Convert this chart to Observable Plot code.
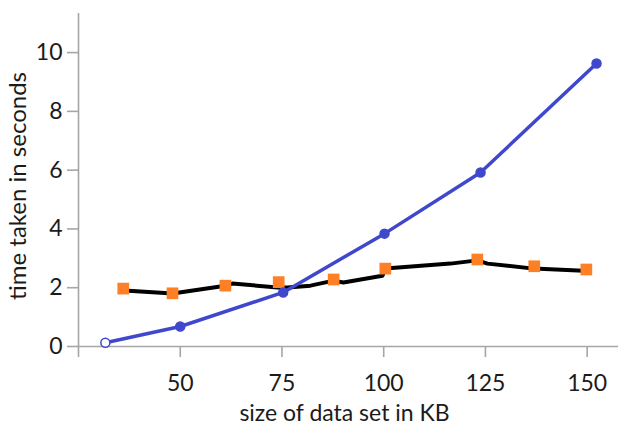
<!DOCTYPE html>
<html><head><meta charset="utf-8">
<script src="https://cdn.jsdelivr.net/npm/d3@7"></script>
<script src="https://cdn.jsdelivr.net/npm/@observablehq/plot@0.6"></script>
<style>html,body{margin:0;padding:0;background:#fff} svg{display:block}</style>
</head><body><div id="chart"></div>
<script>
// tick values
const xTicks = [25, 50, 75, 100, 125, 150];
const xTickLabels = ["", "50", "75", "100", "125", "150"];
const yTicks = [0, 2, 4, 6, 8, 10];
const xTitle = "size of data set in KB";
const yTitle = "time taken in seconds";

// blue series (line with round markers)
const blueX = [31.6, 50.0, 75.3, 100.2, 123.8, 152.3];
const blueY = [0.13, 0.68, 1.84, 3.84, 5.92, 9.63];

// black series (line)
const blackX = [37.3, 48.1, 61.1, 62.8, 73.9, 76.4, 82.0, 87.7, 90.1, 99.7, 100.4, 116.4, 123.0, 125.5, 136.8, 149.1];
const blackY = [1.90, 1.80, 2.07, 2.14, 2.01, 2.01, 2.07, 2.24, 2.18, 2.41, 2.65, 2.82, 2.93, 2.82, 2.65, 2.58];

// orange square markers
const orangeX = [36.0, 48.1, 61.1, 74.2, 87.7, 100.4, 123.0, 137.0, 149.8];
const orangeY = [1.97, 1.81, 2.07, 2.19, 2.28, 2.65, 2.96, 2.73, 2.62];

const blue = blueX.map((x, i) => ({x, y: blueY[i], i}));
const black = blackX.map((x, i) => ({x, y: blackY[i]}));
const orange = orangeX.map((x, i) => ({x, y: orangeY[i]}));

const axisGray = "#a6a6a6";
const textColor = "#1b1b1b";
const blueColor = "#3f48cc";
const orangeColor = "#ff7f27";

const chart = Plot.plot({
  width: 618, height: 433,
  marginLeft: 78, marginRight: 0, marginTop: 13, marginBottom: 87,
  style: {fontFamily: "Lato, 'Open Sans', sans-serif", background: "white"},
  x: {domain: [25, 157.7]},
  y: {domain: [0, 11.33]},
  marks: [
    Plot.ruleY([0], {stroke: axisGray, strokeWidth: 1.6}),
    Plot.ruleX([25], {stroke: axisGray, strokeWidth: 1.6}),
    Plot.axisX({ticks: xTicks, tickFormat: (d) => xTickLabels[xTicks.indexOf(d)], tickSize: 11, tickPadding: 17,
      fontSize: 23, stroke: axisGray, strokeWidth: 1.6, fill: textColor, label: null}),
    Plot.axisY({ticks: yTicks, tickSize: 11, tickPadding: 5, fontSize: 23, stroke: axisGray, strokeWidth: 1.6,
      fill: textColor, label: null}),
    Plot.text([xTitle], {frameAnchor: "bottom", textAnchor: "middle", dx: -4, dy: 67, lineAnchor: "middle", fontSize: 23, fill: textColor}),
    Plot.text([yTitle], {frameAnchor: "left", textAnchor: "middle", rotate: -90, dx: -60, dy: 6, lineAnchor: "middle", fontSize: 24, fill: textColor}),
    Plot.line(black, {x: "x", y: "y", stroke: "black", strokeWidth: 4}),
    Plot.dot(orange, {x: "x", y: "y", symbol: "square", r: 6.6, fill: orangeColor, stroke: "none"}),
    Plot.line(blue, {x: "x", y: "y", stroke: blueColor, strokeWidth: 3.5}),
    Plot.dot(blue, {x: "x", y: "y", r: 4.5, fill: (d) => d.i === 0 ? "white" : blueColor, stroke: blueColor, strokeWidth: 1.5})
  ]
});
document.getElementById("chart").appendChild(chart);
</script>
</body></html>
